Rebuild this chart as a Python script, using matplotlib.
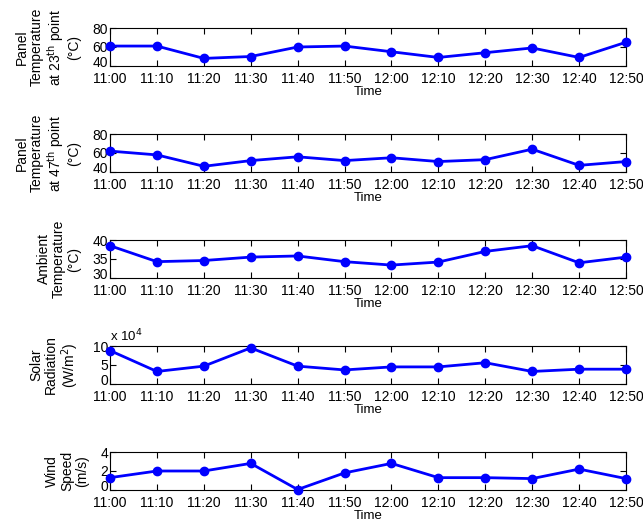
import numpy as np
import matplotlib
matplotlib.use("Agg")
import matplotlib.pyplot as plt
import matplotlib.transforms as mtransforms

plt.rcParams['font.family'] = ['Liberation Sans', 'DejaVu Sans']

# data
times = ['11:00', '11:10', '11:20', '11:30', '11:40', '11:50',
         '12:00', '12:10', '12:20', '12:30', '12:40', '12:50']
panel_23 = [61, 61, 48, 50, 60, 61, 55, 49, 54, 59, 49, 65]
panel_47 = [62, 58, 46, 52, 56, 52, 55, 51, 53, 64, 47, 51]
ambient = [38.5, 34.3, 34.6, 35.5, 35.8, 34.3, 33.4, 34.2, 37.0, 38.5, 34.0, 35.5]
solar = [88000, 33000, 47000, 95000, 47000, 37000, 45000, 45000, 56000, 33000, 39000, 39000]
wind = [1.3, 2.0, 2.0, 2.8, 0.05, 1.8, 2.8, 1.3, 1.3, 1.2, 2.2, 1.2]

series = [panel_23, panel_47, ambient, solar, wind]
ylabels = [
    'Panel\nTemperature\nat 23$^{\\rm th}$ point\n(°C)',
    'Panel\nTemperature\nat 47$^{\\rm th}$ point\n(°C)',
    'Ambient\nTemperature\n(°C)',
    'Solar\nRadiation\n(W/m$^{2}$)',
    'Wind\nSpeed\n(m/s)',
]
ylims = [(40, 80), (40, 80), (30, 40), (0, 100000), (0, 4)]
yticks = [[40, 60, 80], [40, 60, 80], [30, 35, 40], [0, 50000, 100000], [0, 2, 4]]
yticklabels = [['40', '60', '80'], ['40', '60', '80'], ['30', '35', '40'],
               ['0', '5', '10'], ['0', '2', '4']]

fig = plt.figure(figsize=(6.43, 5.26), dpi=100)

W, H = 643.0, 526.0
left, right = 110, 626
tops = [28, 134, 240, 346, 452]
hgt = 38

x = np.arange(len(times))
for i, y in enumerate(series):
    ax = fig.add_axes([left / W, 1 - (tops[i] + hgt) / H, (right - left) / W, hgt / H])
    ax.plot(x, y, color='#0000ff', lw=2, marker='o', ms=6, clip_on=False, zorder=3)
    ax.set_xlim(0, len(times) - 1)
    ax.set_ylim(*ylims[i])
    ax.set_xticks(x)
    ax.set_xticklabels(times)
    ax.set_yticks(yticks[i])
    ax.set_yticklabels(yticklabels[i])
    ax.tick_params(direction='in', top=True, right=True, labelsize=10,
                   length=4, width=0.8)
    ax.tick_params(axis='x', pad=4)
    ax.tick_params(axis='y', pad=1.5)
    # nudge the lowest y label up a bit so it doesn't sit on the first time label
    lab = ax.get_yticklabels()[0]
    lab.set_transform(lab.get_transform() + mtransforms.ScaledTranslation(0, 3 / 72, fig.dpi_scale_trans))
    ax.set_xlabel('Time', fontsize=9.5, labelpad=0)
    ax.set_ylabel(ylabels[i], fontsize=10, labelpad=8, linespacing=1.1)
    if i == 3:
        ax.text(0.0, 1.04, 'x 10$^{4}$', transform=ax.transAxes,
                fontsize=9.5, ha='left', va='bottom')

plt.savefig('out.png', dpi=100)
